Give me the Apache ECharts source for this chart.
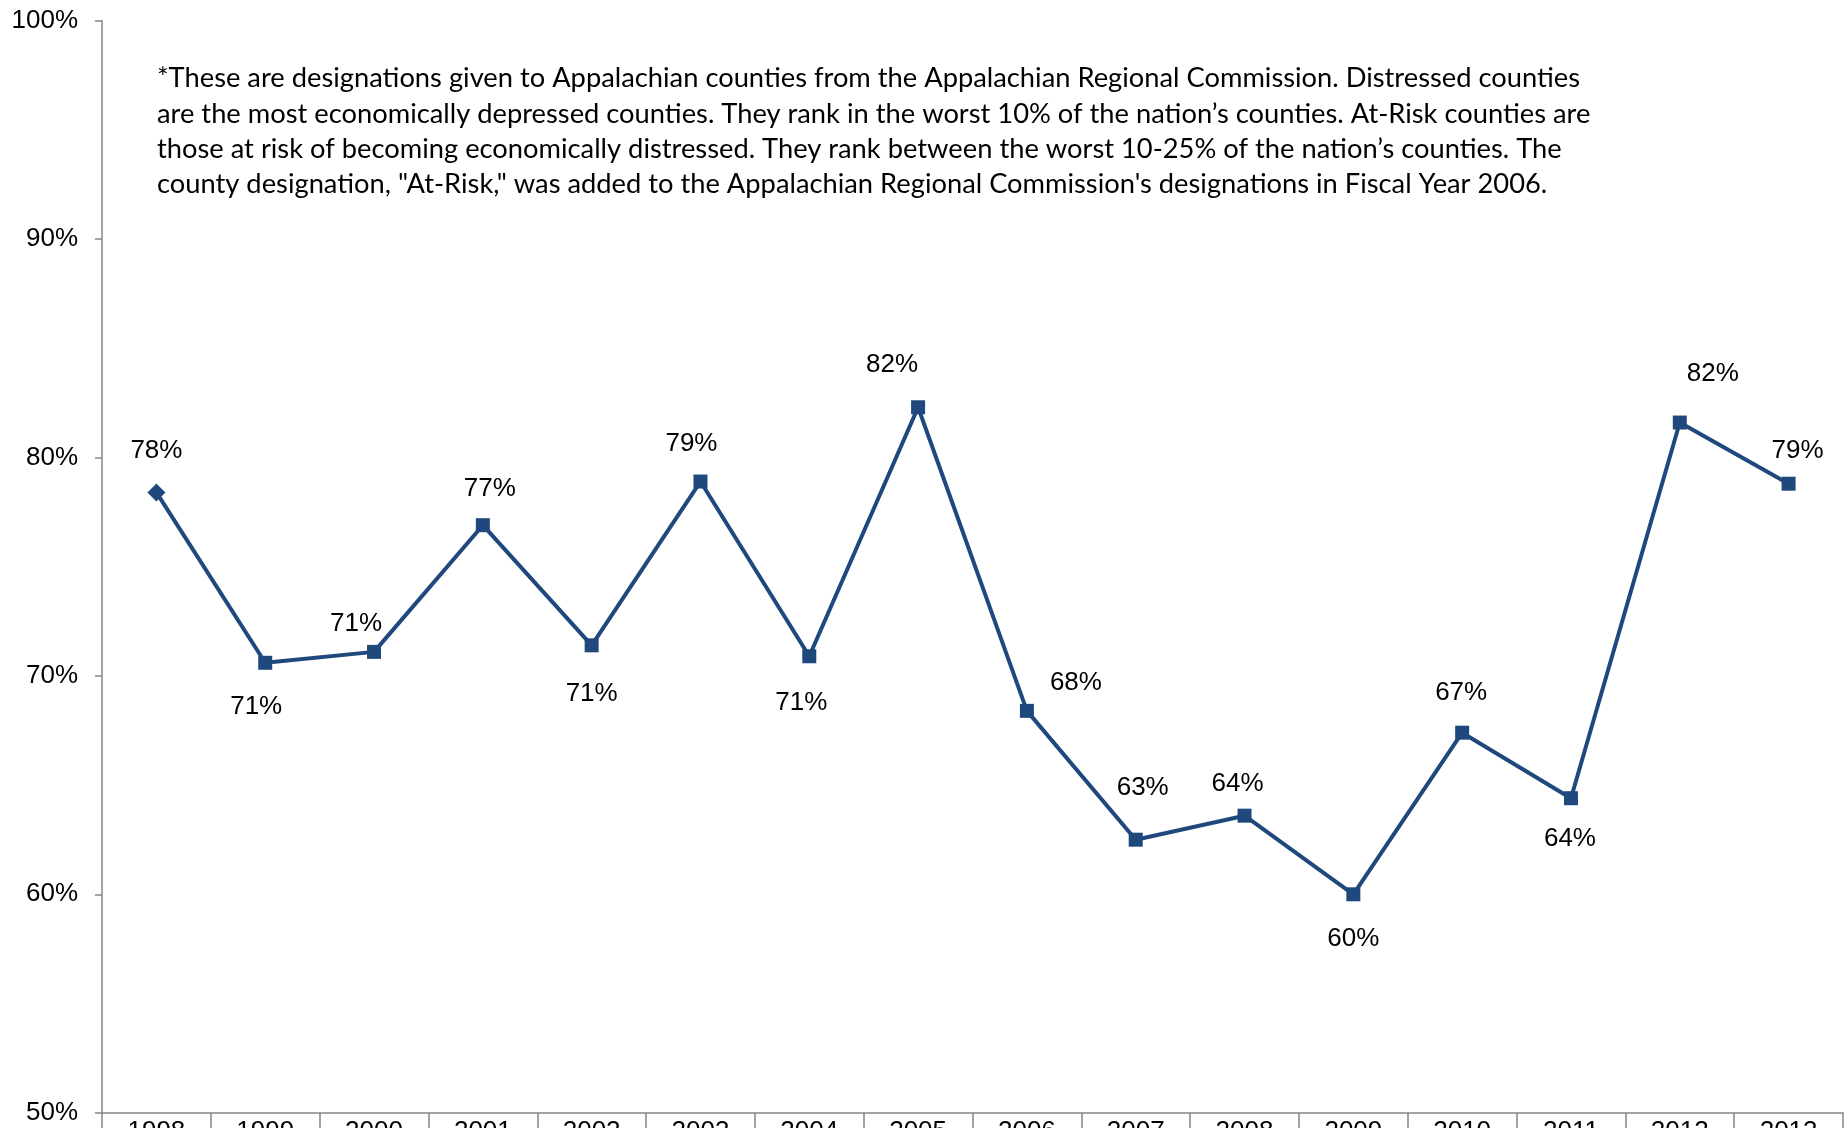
<!DOCTYPE html>
<html>
<head>
<meta charset="utf-8">
<script src="https://cdn.jsdelivr.net/npm/echarts@6/dist/echarts.min.js"></script>
<style>
html,body{margin:0;padding:0;background:#fff;}
#chart{width:1844px;height:1128px;}
</style>
</head>
<body>
<div id="chart"></div>
<script>
const years = ['1998','1999','2000','2001','2002','2003','2004','2005','2006','2007','2008','2009','2010','2011','2012','2013'];
const values = [78.4, 70.6, 71.1, 76.9, 71.4, 78.9, 70.9, 82.3, 68.4, 62.5, 63.6, 60.0, 67.4, 64.4, 81.6, 78.8];
const yTicks = [50, 60, 70, 80, 90, 100];
const noteLines = [
  '*These are designations given to Appalachian counties from the Appalachian Regional Commission. Distressed counties',
  'are the most economically depressed counties. They rank in the worst 10% of the nation\u2019s counties. At-Risk counties are',
  'those at risk of becoming economically distressed. They rank between the worst 10-25% of the nation\u2019s counties. The',
  'county designation, "At-Risk," was added to the Appalachian Regional Commission\'s designations in Fiscal Year 2006.'
];
// label placement (style only)
const labelOffsets = [[0,-42],[-9,44],[-18,-28],[7,-36],[0,49],[-9,-38],[-8,47],[-26,-42],[49,-28],[7,-52],[-7,-32],[0,45],[-1,-40],[-1,41],[33,-49],[9,-33]];

const chart = echarts.init(document.getElementById('chart'), null, {renderer:'canvas'});
const lineColor = '#1F497D';
const seriesData = values.map((v, i) => ({
  value: v,
  symbol: i === 0 ? 'diamond' : 'rect',
  symbolSize: i === 0 ? 18 : 14,
  label: { offset: labelOffsets[i] }
}));

chart.setOption({
  animation: false,
  backgroundColor: '#fff',
  grid: { left: 102, right: 1, top: 20.7, bottom: 15.3, containLabel: false, outerBoundsMode: 'none' },
  xAxis: {
    type: 'category',
    data: years,
    boundaryGap: true,
    axisLine: { lineStyle: { color: '#868686', width: 1.5 } },
    axisTick: { show: true, length: 40, lineStyle: { color: '#868686', width: 1.5 } },
    axisLabel: { margin: 6, fontFamily: 'Liberation Sans', fontSize: 26, color: '#000', interval: 0 },
    splitLine: { show: false }
  },
  yAxis: {
    type: 'value',
    min: yTicks[0],
    max: yTicks[yTicks.length - 1],
    interval: 10,
    axisLine: { show: true, lineStyle: { color: '#868686', width: 1.5 } },
    axisTick: { show: true, length: 7, lineStyle: { color: '#868686', width: 1.5 } },
    axisLabel: { margin: 24, fontFamily: 'Liberation Sans', fontSize: 26, color: '#000', formatter: '{value}%' },
    splitLine: { show: false }
  },
  series: [{
    type: 'line',
    data: seriesData,
    lineStyle: { color: lineColor, width: 4 },
    itemStyle: { color: lineColor },
    label: {
      show: true,
      position: 'inside',
      fontFamily: 'Liberation Sans',
      fontSize: 26,
      color: '#000',
      formatter: p => Math.round(p.value) + '%'
    },
    z: 3
  }],
  graphic: [{
    type: 'text',
    left: 157,
    top: 61,
    style: {
      text: noteLines.join('\n'),
      font: '27.3px Lato',
      lineHeight: 35.3,
      fill: '#000'
    }
  }]
});
</script>
</body>
</html>
